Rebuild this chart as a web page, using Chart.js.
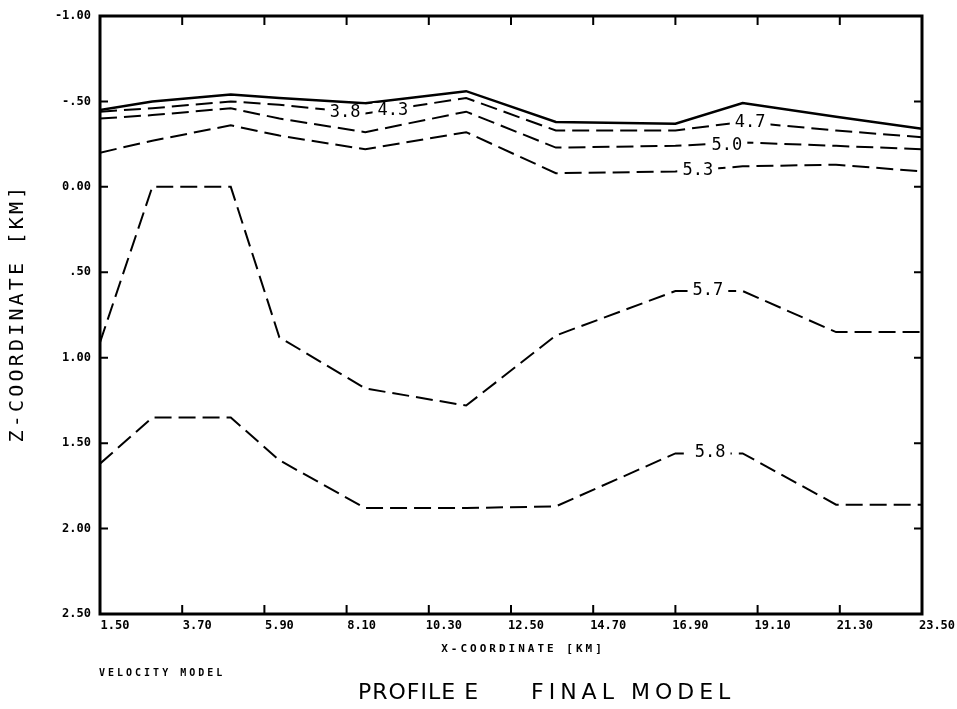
<!DOCTYPE html>
<html>
<head>
<meta charset="utf-8">
<script src="https://cdn.jsdelivr.net/npm/chart.js@4.4.0/dist/chart.umd.min.js"></script>
<style>
  html, body { margin: 0; padding: 0; background: #fff; }
  canvas { display: block; }
</style>
</head>
<body>
<canvas id="perfil" width="957" height="709"></canvas>
<script>
// nodes of the velocity model along the profile (km)
const nodeX = [1.5, 2.9, 5.0, 6.3, 8.6, 11.3, 13.7, 16.9, 18.7, 21.2, 23.5];

// depth (km) of each boundary at the nodes
const surfaceZ = [-0.45, -0.50, -0.54, -0.52, -0.49, -0.56, -0.38, -0.37, -0.49, -0.41, -0.34];
const z47 = [-0.44, -0.46, -0.50, -0.48, -0.43, -0.52, -0.33, -0.33, -0.38, -0.33, -0.29];
const z50 = [-0.40, -0.42, -0.46, -0.40, -0.32, -0.44, -0.23, -0.24, -0.26, -0.24, -0.22];
const z53 = [-0.20, -0.27, -0.36, -0.30, -0.22, -0.32, -0.08, -0.09, -0.12, -0.13, -0.09];
const z57 = [0.91, 0.00, 0.00, 0.88, 1.18, 1.28, 0.87, 0.61, 0.61, 0.85, 0.85];
const z58 = [1.62, 1.35, 1.35, 1.60, 1.88, 1.88, 1.87, 1.56, 1.56, 1.86, 1.86];

// axis ticks
const xTicks = [1.5, 3.7, 5.9, 8.1, 10.3, 12.5, 14.7, 16.9, 19.1, 21.3, 23.5];
const xTickLabels = ['1.50', '3.70', '5.90', '8.10', '10.30', '12.50', '14.70', '16.90', '19.10', '21.30', '23.50'];
const zTicks = [-1, -0.5, 0, 0.5, 1, 1.5, 2, 2.5];
const zTickLabels = ['-1.00', '-.50', '0.00', '.50', '1.00', '1.50', '2.00', '2.50'];

// velocity labels written on the lines
const contourText = ['3.8', '4.3', '4.7', '5.0', '5.3', '5.7', '5.8'];
const contourX = [8.06, 9.34, 18.9, 18.28, 17.5, 17.77, 17.83];
const contourZ = [-0.44, -0.45, -0.38, -0.245, -0.10, 0.60, 1.55];

const pontos = zs => nodeX.map((x, i) => ({ x: x, y: zs[i] }));

function linha(zs, tracejado, largura) {
  return {
    data: pontos(zs),
    borderColor: '#000',
    borderWidth: largura,
    borderDash: tracejado,
    pointRadius: 0,
    tension: 0,
    fill: false
  };
}

const fonteMono = '"DejaVu Sans Mono", monospace';

const molduraPlugin = {
  id: 'moldura',
  afterDatasetsDraw(chart) {
    const { ctx, scales: { x, y } } = chart;
    ctx.save();
    ctx.font = '17px ' + fonteMono;
    ctx.textAlign = 'center';
    ctx.textBaseline = 'middle';
    contourText.forEach((t, i) => {
      const px = x.getPixelForValue(contourX[i]);
      const py = y.getPixelForValue(contourZ[i]);
      const w = ctx.measureText(t).width + 10;
      ctx.fillStyle = '#fff';
      ctx.fillRect(px - w / 2, py - 7, w, 14);
      ctx.fillStyle = '#000';
      ctx.fillText(t, px, py + 1);
    });
    ctx.restore();
  },
  afterDraw(chart) {
    const { ctx, chartArea: a, scales: { x, y } } = chart;
    ctx.save();
    ctx.strokeStyle = '#000';
    // frame
    ctx.lineWidth = 3;
    ctx.strokeRect(a.left, a.top, a.right - a.left, a.bottom - a.top);
    // inward ticks
    ctx.lineWidth = 2;
    ctx.beginPath();
    xTicks.slice(1, -1).forEach(v => {
      const px = x.getPixelForValue(v);
      ctx.moveTo(px, a.bottom); ctx.lineTo(px, a.bottom - 9);
      ctx.moveTo(px, a.top); ctx.lineTo(px, a.top + 9);
    });
    zTicks.slice(1, -1).forEach(v => {
      const py = y.getPixelForValue(v);
      ctx.moveTo(a.left, py); ctx.lineTo(a.left + 8, py);
      ctx.moveTo(a.right, py); ctx.lineTo(a.right - 8, py);
    });
    ctx.stroke();

    // titles
    ctx.fillStyle = '#000';
    ctx.textBaseline = 'middle';
    ctx.font = 'bold 11px ' + fonteMono;
    ctx.letterSpacing = '3px';
    ctx.textAlign = 'center';
    ctx.fillText('X-COORDINATE [KM]', 523, 649);

    ctx.font = 'bold 10px ' + fonteMono;
    ctx.letterSpacing = '3px';
    ctx.textAlign = 'left';
    ctx.fillText('VELOCITY MODEL', 99, 673);

    ctx.font = '22px "DejaVu Sans", sans-serif';
    ctx.letterSpacing = '1px';
    ctx.fillText('PROFILE E', 358, 693);
    ctx.letterSpacing = '5px';
    ctx.fillText('FINAL MODEL', 531, 693);

    ctx.translate(18, 313);
    ctx.rotate(-Math.PI / 2);
    ctx.font = '20px ' + fonteMono;
    ctx.letterSpacing = '3.2px';
    ctx.textAlign = 'center';
    ctx.fillText('Z-COORDINATE [KM]', 0, 0);
    ctx.restore();
  }
};

const ctx = document.getElementById('perfil').getContext('2d');

new Chart(ctx, {
  type: 'line',
  data: {
    datasets: [
      linha(surfaceZ, [], 2.5),
      linha(z47, [17, 7], 2),
      linha(z50, [17, 7], 2),
      linha(z53, [17, 7], 2),
      linha(z57, [17, 7], 2),
      linha(z58, [17, 7], 2)
    ]
  },
  options: {
    responsive: false,
    animation: false,
    layout: { padding: { left: 0, right: 35, top: 16, bottom: 0 } },
    plugins: {
      legend: { display: false },
      tooltip: { enabled: false }
    },
    scales: {
      x: {
        type: 'linear',
        min: 1.5,
        max: 23.5,
        grid: { display: false, drawTicks: false },
        border: { display: false },
        afterBuildTicks: s => { s.ticks = xTicks.map(v => ({ value: v })); },
        afterFit: s => {
          s.height = 95;
          s.paddingLeft = 0; s.paddingRight = 0;
        },
        ticks: {
          color: '#000',
          padding: 5,
          labelOffset: 15,
          maxRotation: 0,
          autoSkip: false,
          font: { family: 'DejaVu Sans Mono', size: 12, weight: 'bold' },
          callback: (v, i) => xTickLabels[i]
        }
      },
      y: {
        type: 'linear',
        reverse: true,
        min: -1,
        max: 2.5,
        grid: { display: false, drawTicks: false },
        border: { display: false },
        afterBuildTicks: s => { s.ticks = zTicks.map(v => ({ value: v })); },
        afterFit: s => {
          s.width = 100;
          s.paddingTop = 0; s.paddingBottom = 0;
        },
        ticks: {
          color: '#000',
          padding: 9,
          autoSkip: false,
          font: { family: 'DejaVu Sans Mono', size: 12, weight: 'bold' },
          callback: (v, i) => zTickLabels[i]
        }
      }
    }
  },
  plugins: [molduraPlugin]
});
</script>
</body>
</html>
